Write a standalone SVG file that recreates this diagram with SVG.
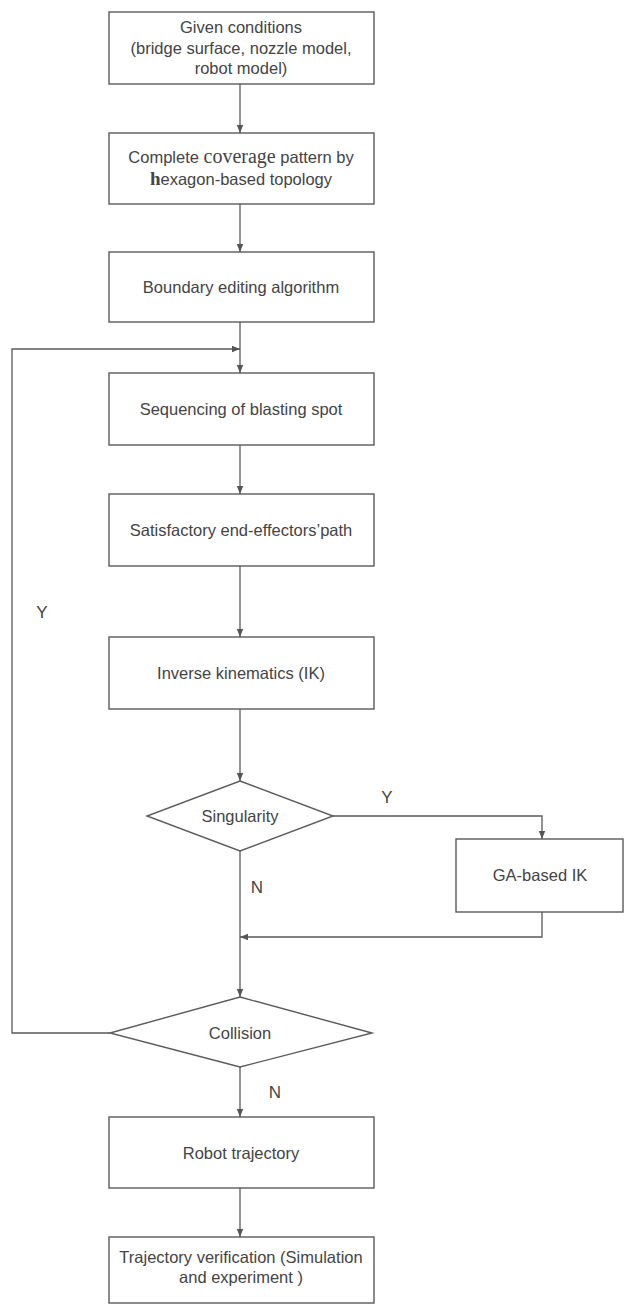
<svg xmlns="http://www.w3.org/2000/svg" width="624" height="1306" viewBox="0 0 624 1306">
<defs>
<marker id="ah" markerWidth="8" markerHeight="8" refX="8" refY="4" orient="auto" markerUnits="userSpaceOnUse" viewBox="0 0 8 8">
<path d="M0,0.8 L8,4 L0,7.2 Z" fill="#555"/>
</marker>
<style>
.box{fill:none;stroke:#5a5a5a;stroke-width:1.4}
.ln{fill:none;stroke:#5a5a5a;stroke-width:1.3}
.t{font-family:"Liberation Sans",Arial,sans-serif;font-size:16.5px;fill:#444;text-anchor:middle}
.lbl{font-family:"Liberation Sans",Arial,sans-serif;font-size:17px;fill:#444;text-anchor:middle}
</style>
</defs>
<rect width="624" height="1306" fill="#fff"/>
<g id="connectors">
<line class="ln" x1="240" y1="84" x2="240" y2="133" marker-end="url(#ah)"/>
<line class="ln" x1="240" y1="204" x2="240" y2="252" marker-end="url(#ah)"/>
<line class="ln" x1="240" y1="322" x2="240" y2="373" marker-end="url(#ah)"/>
<line class="ln" x1="240" y1="445" x2="240" y2="494" marker-end="url(#ah)"/>
<line class="ln" x1="240" y1="566" x2="240" y2="637" marker-end="url(#ah)"/>
<line class="ln" x1="240" y1="709" x2="240" y2="781" marker-end="url(#ah)"/>
<polyline class="ln" points="333,816 542,816 542,839" marker-end="url(#ah)"/>
<polyline class="ln" points="542,912 542,937 240,937" marker-end="url(#ah)"/>
<line class="ln" x1="240" y1="851" x2="240" y2="997" marker-end="url(#ah)"/>
<polyline class="ln" points="110,1033 12,1033 12,349 240,349" marker-end="url(#ah)"/>
<line class="ln" x1="240" y1="1067" x2="240" y2="1117" marker-end="url(#ah)"/>
<line class="ln" x1="240" y1="1188" x2="240" y2="1237" marker-end="url(#ah)"/>
<text class="lbl" x="387" y="803">Y</text>
<text class="lbl" x="257" y="893">N</text>
<text class="lbl" x="275" y="1098">N</text>
<text class="lbl" x="42" y="618">Y</text>
</g>
<g id="n1">
<rect class="box" x="109" y="12" width="265" height="72"/>
<text class="t" x="241" y="33">Given conditions</text>
<text class="t" x="241" y="54">(bridge surface, nozzle model,</text>
<text class="t" x="241" y="74">robot model)</text>
</g>
<g id="n2">
<rect class="box" x="109" y="133" width="265" height="71"/>
<text class="t" x="241" y="163">Complete <tspan font-family="'Liberation Serif',serif" font-size="20">coverage</tspan> pattern by</text>
<text class="t" x="241" y="185"><tspan font-family="'Liberation Serif',serif" font-weight="bold" font-size="19">h</tspan>exagon-based topology</text>
</g>
<g id="n3">
<rect class="box" x="109" y="252" width="265" height="70"/>
<text class="t" x="241" y="293">Boundary editing algorithm</text>
</g>
<g id="n4">
<rect class="box" x="109" y="373" width="265" height="72"/>
<text class="t" x="241" y="415">Sequencing of blasting spot</text>
</g>
<g id="n5">
<rect class="box" x="109" y="494" width="265" height="72"/>
<text class="t" x="241" y="536">Satisfactory end-effectors’path</text>
</g>
<g id="n6">
<rect class="box" x="109" y="637" width="265" height="72"/>
<text class="t" x="241" y="679">Inverse kinematics (IK)</text>
</g>
<g id="n7">
<polygon class="box" points="240,781 333,816 240,851 147,816"/>
<text class="t" x="240" y="822">Singularity</text>
</g>
<g id="n8">
<rect class="box" x="456" y="839" width="167" height="73"/>
<text class="t" x="540" y="881">GA-based IK</text>
</g>
<g id="n9">
<polygon class="box" points="240,997 372,1033 240,1067 110,1033"/>
<text class="t" x="240" y="1039">Collision</text>
</g>
<g id="n10">
<rect class="box" x="109" y="1117" width="265" height="71"/>
<text class="t" x="241" y="1159">Robot trajectory</text>
</g>
<g id="n11">
<rect class="box" x="109" y="1237" width="265" height="66"/>
<text class="t" x="241" y="1263">Trajectory verification (Simulation</text>
<text class="t" x="241" y="1283">and experiment )</text>
</g>
</svg>
